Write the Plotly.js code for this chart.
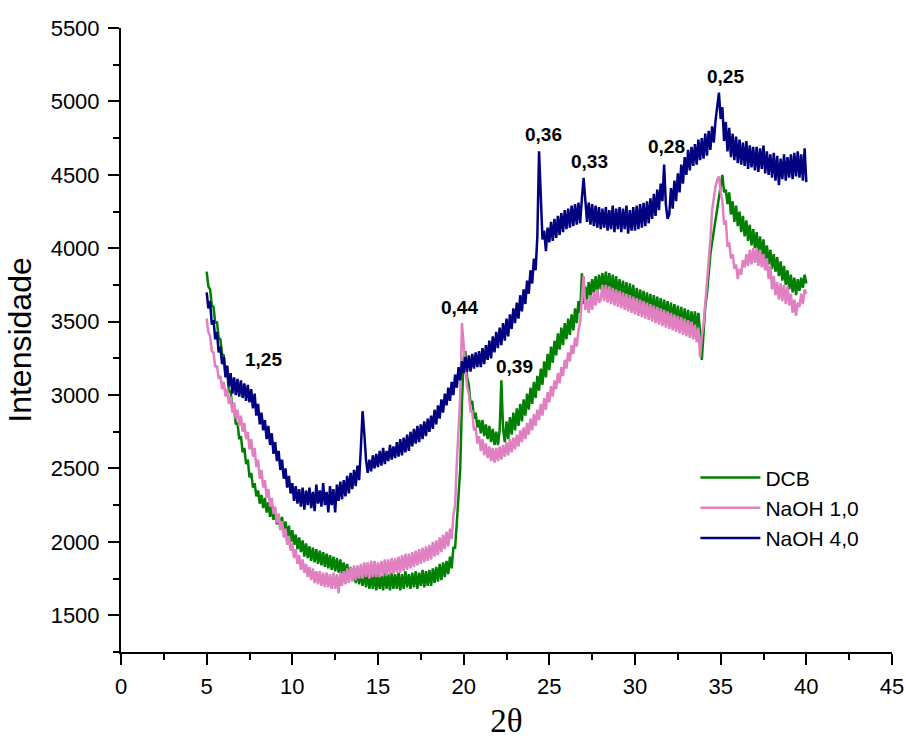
<!DOCTYPE html>
<html>
<head>
<meta charset="utf-8">
<script src="https://cdn.plot.ly/plotly-3.0.1.min.js"></script>
<style>html,body{margin:0;padding:0;background:#fff;}#chart{width:906px;height:740px;}</style>
</head>
<body>
<div id="chart"></div>
<script>
// 2θ sampling: first angle and step of the measured points (each row below = one degree, 10 points)
const twoThetaStart = 5.0;
const twoThetaStep = 0.1;

const seriesNames = ["DCB", "NaOH 1,0", "NaOH 4,0"];

const dcb = [
3840,3740,3720,3610,3600,3490,3500,3390,3380,3280,
3270,3140,3150,3020,3030,2900,2920,2800,2810,2700,
2720,2610,2640,2530,2560,2440,2470,2370,2400,2310,
2350,2260,2320,2230,2300,2200,2270,2170,2240,2150,
2210,2120,2190,2090,2170,2060,2140,2030,2110,2000,
2080,1980,2050,1950,2030,1930,2010,1900,1990,1890,
1970,1870,1960,1860,1950,1850,1940,1840,1930,1830,
1920,1820,1910,1810,1900,1800,1890,1790,1880,1780,
1860,1770,1850,1750,1830,1740,1820,1720,1810,1710,
1800,1700,1790,1690,1790,1680,1780,1680,1790,1670,
1780,1680,1770,1670,1790,1680,1780,1670,1790,1680,
1780,1680,1790,1670,1780,1680,1800,1690,1780,1680,
1790,1690,1800,1680,1790,1700,1810,1690,1800,1700,
1810,1700,1820,1720,1830,1730,1850,1740,1860,1760,
1870,1780,1900,1820,1960,1960,2130,2300,2500,2950,
3250,3300,3120,3070,2940,2960,2840,2880,2780,2830,
2740,2830,2720,2800,2700,2790,2680,2770,2660,2750,
2660,2760,3100,2770,2680,2820,2700,2850,2730,2880,
2760,2910,2790,2940,2820,2970,2860,3010,2900,3050,
2940,3090,2980,3130,3030,3180,3070,3230,3120,3280,
3170,3330,3220,3370,3270,3420,3310,3460,3340,3490,
3380,3520,3410,3550,3440,3590,3490,3640,3560,3830,
3620,3740,3650,3770,3670,3790,3690,3810,3700,3820,
3720,3830,3720,3840,3710,3830,3700,3820,3690,3810,
3670,3790,3660,3780,3640,3770,3630,3760,3620,3750,
3600,3730,3600,3720,3590,3710,3580,3700,3570,3690,
3550,3680,3550,3670,3540,3660,3530,3650,3520,3640,
3510,3630,3500,3620,3490,3610,3480,3600,3470,3590,
3460,3580,3450,3570,3450,3570,3440,3560,3430,3240,
3460,3600,3690,3850,3960,4040,4120,4190,4260,4350,
4420,4500,4380,4400,4300,4380,4230,4320,4180,4290,
4150,4250,4110,4220,4080,4190,4050,4160,4020,4130,
4000,4110,3970,4080,3950,4060,3920,4020,3890,3990,
3860,3960,3840,3940,3810,3910,3780,3880,3750,3850,
3720,3820,3700,3800,3680,3790,3710,3800,3730,3820,
3760
];

const naoh10 = [
3520,3430,3400,3300,3290,3190,3200,3110,3130,3040,
3090,2990,3040,2940,2990,2880,2950,2840,2900,2790,
2860,2750,2810,2700,2750,2630,2700,2580,2640,2510,
2560,2430,2490,2370,2420,2300,2360,2240,2300,2190,
2240,2130,2190,2080,2140,2030,2090,1980,2040,1940,
1990,1890,1950,1850,1910,1810,1880,1790,1850,1760,
1830,1740,1820,1720,1800,1710,1800,1700,1790,1690,
1790,1690,1780,1680,1790,1680,1780,1650,1790,1700,
1800,1710,1820,1720,1830,1730,1840,1740,1840,1750,
1850,1750,1860,1760,1860,1750,1870,1760,1870,1760,
1860,1760,1870,1770,1880,1770,1880,1780,1890,1780,
1890,1790,1900,1790,1910,1800,1920,1810,1920,1820,
1930,1830,1940,1840,1950,1850,1960,1860,1970,1870,
1980,1880,2000,1900,2010,1910,2030,1930,2050,1950,
2070,1970,2090,2020,2180,2250,2540,2800,2990,3490,
3300,3190,3060,3010,2890,2890,2760,2780,2670,2720,
2620,2700,2590,2670,2570,2650,2550,2640,2540,2640,
2550,2650,2560,2660,2580,2680,2590,2700,2610,2710,
2630,2730,2650,2760,2680,2780,2700,2810,2730,2840,
2760,2870,2790,2900,2830,2940,2860,2980,2900,3020,
2950,3060,2990,3100,3040,3150,3080,3190,3130,3240,
3180,3290,3230,3340,3280,3390,3330,3440,3500,3650,
3810,3580,3650,3560,3680,3580,3700,3610,3720,3630,
3650,3750,3640,3750,3630,3740,3620,3730,3610,3720,
3600,3710,3590,3700,3580,3690,3570,3680,3560,3670,
3550,3660,3540,3650,3530,3640,3520,3630,3510,3620,
3500,3610,3490,3600,3480,3590,3470,3580,3460,3570,
3450,3560,3440,3550,3430,3540,3420,3530,3410,3520,
3400,3510,3390,3500,3380,3480,3360,3460,3260,3400,
3480,3620,3750,3900,4060,4260,4350,4420,4465,4490,
4380,4320,4160,4190,4010,4040,3930,3960,3860,3890,
3790,3860,3820,3920,3870,3960,3880,3990,3890,4000,
3900,4000,3880,3990,3870,3960,3850,3930,3790,3880,
3720,3810,3680,3770,3650,3760,3640,3750,3620,3740,
3610,3690,3560,3650,3540,3630,3600,3690,3620,3720,
3690
];

const naoh40 = [
3700,3590,3640,3480,3510,3380,3430,3290,3330,3210,
3260,3120,3200,3060,3150,3010,3120,3000,3110,2990,
3100,2980,3080,2960,3070,2950,3040,2910,3010,2860,
2940,2800,2880,2760,2830,2700,2790,2660,2740,2600,
2680,2550,2620,2490,2560,2430,2500,2370,2450,2330,
2400,2280,2380,2260,2360,2240,2370,2220,2350,2250,
2370,2230,2340,2210,2390,2260,2350,2240,2400,2250,
2340,2200,2380,2250,2360,2200,2390,2280,2410,2290,
2420,2310,2450,2330,2470,2360,2490,2380,2520,2420,
2640,2890,2740,2560,2470,2560,2480,2590,2500,2600,
2510,2620,2520,2640,2530,2620,2550,2660,2560,2650,
2570,2680,2580,2700,2590,2710,2610,2730,2620,2750,
2650,2770,2670,2790,2680,2800,2700,2820,2720,2840,
2750,2860,2770,2900,2800,2930,2840,2970,2880,3010,
2930,3050,2960,3090,3000,3140,3050,3190,3100,3230,
3150,3260,3160,3270,3160,3280,3180,3290,3190,3300,
3190,3320,3210,3340,3240,3370,3250,3400,3290,3430,
3320,3460,3340,3490,3370,3520,3400,3550,3450,3590,
3490,3630,3520,3680,3570,3720,3620,3780,3690,3850,
3760,3930,3850,4080,4660,4360,4060,4120,3980,4140,
4040,4180,4050,4200,4070,4220,4090,4240,4110,4260,
4130,4270,4140,4290,4150,4300,4160,4310,4170,4340,
4480,4330,4180,4310,4160,4300,4150,4290,4140,4280,
4130,4270,4140,4280,4120,4260,4130,4290,4110,4270,
4130,4280,4110,4270,4130,4290,4100,4260,4120,4280,
4120,4290,4130,4300,4140,4310,4150,4320,4170,4340,
4200,4370,4220,4400,4260,4440,4320,4570,4300,4200,
4230,4410,4270,4460,4320,4510,4380,4570,4440,4620,
4500,4670,4530,4690,4560,4710,4570,4740,4600,4750,
4610,4780,4630,4800,4670,4830,4720,4870,4950,5060,
4880,4960,4730,4860,4660,4820,4620,4780,4600,4760,
4580,4740,4570,4720,4560,4730,4540,4700,4550,4690,
4530,4690,4520,4680,4540,4700,4510,4660,4500,4640,
4480,4650,4460,4630,4430,4610,4470,4640,4460,4620,
4480,4640,4470,4650,4490,4660,4480,4640,4460,4680,
4450
];

const peakLabels = ["1,25", "0,44", "0,39", "0,36", "0,33", "0,28", "0,25"];
const peakLabelX = [8.32, 19.78, 22.96, 24.64, 27.36, 31.85, 35.29];
const peakLabelY = [3240, 3594, 3196, 4778, 4593, 4690, 5170];

const xTickVals = [0, 5, 10, 15, 20, 25, 30, 35, 40, 45];
const yTickVals = [1500, 2000, 2500, 3000, 3500, 4000, 4500, 5000, 5500];

const colors = ["#008000", "#E080C0", "#000080"];
const seriesData = [dcb, naoh10, naoh40];

const traces = seriesData.map((ys, i) => ({
  type: "scatter",
  mode: "lines",
  name: seriesNames[i],
  x0: twoThetaStart,
  dx: twoThetaStep,
  y: ys,
  line: {color: colors[i], width: 2.5}
}));

const sans = "'Liberation Sans', Arial, sans-serif";

const layout = {
  width: 906,
  height: 740,
  paper_bgcolor: "#ffffff",
  plot_bgcolor: "#ffffff",
  margin: {l: 121, r: 14, t: 28, b: 88},
  showlegend: true,
  legend: {
    x: 0.745, y: 0.312, xanchor: "left", yanchor: "top",
    font: {family: sans, size: 21, color: "#000"},
    bgcolor: "rgba(0,0,0,0)",
    itemwidth: 60,
    tracegroupgap: 0
  },
  xaxis: {
    range: [0, 45],
    tickvals: xTickVals,
    ticks: "outside", ticklen: 11, tickwidth: 2, tickcolor: "#000",
    minor: {dtick: 2.5, tick0: 0, ticks: "outside", ticklen: 6, tickwidth: 2, tickcolor: "#000"},
    showline: true, linecolor: "#000", linewidth: 2,
    showgrid: false, zeroline: false,
    tickfont: {family: sans, size: 22, color: "#000"},
    ticklabelstandoff: 3,
    title: {text: "2θ", font: {family: "'Liberation Serif', 'Times New Roman', serif", size: 33, color: "#000"}, standoff: 10}
  },
  yaxis: {
    range: [1250, 5500],
    tickvals: yTickVals,
    ticks: "outside", ticklen: 11, tickwidth: 2, tickcolor: "#000",
    minor: {dtick: 250, tick0: 1250, ticks: "outside", ticklen: 6, tickwidth: 2, tickcolor: "#000"},
    showline: true, linecolor: "#000", linewidth: 2,
    showgrid: false, zeroline: false,
    tickfont: {family: sans, size: 22, color: "#000"},
    ticklabelstandoff: 4,
    title: {text: "Intensidade", font: {family: sans, size: 32, color: "#000"}, standoff: 9}
  },
  annotations: peakLabels.map((t, i) => ({
    x: peakLabelX[i], y: peakLabelY[i], xref: "x", yref: "y",
    text: "<b>" + t + "</b>", showarrow: false,
    xanchor: "center", yanchor: "middle",
    font: {family: sans, size: 19, color: "#000"}
  }))
};

Plotly.newPlot("chart", traces, layout, {displayModeBar: false, staticPlot: true});
</script>
</body>
</html>
